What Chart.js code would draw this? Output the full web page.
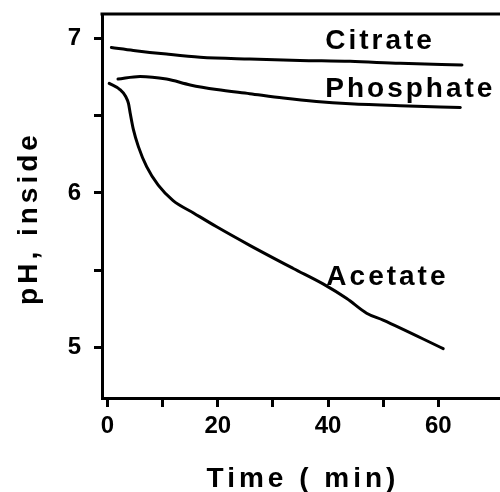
<!DOCTYPE html>
<html>
<head>
<meta charset="utf-8">
<script src="https://cdn.jsdelivr.net/npm/chart.js@4.4.1/dist/chart.umd.min.js"></script>
<style>
  html, body { margin: 0; padding: 0; background: #fff; }
  #wrap { width: 500px; height: 492px; }
</style>
</head>
<body>
<div id="wrap"><canvas id="phChart" width="500" height="492"></canvas></div>
<script>
// time (min) vs internal pH
const citrateTime = [0.7, 4.7, 10.7, 16.8, 25.8, 34.9, 44, 53.1, 64.3];
const citratePH = [6.943, 6.924, 6.90, 6.88, 6.868, 6.859, 6.853, 6.84, 6.83];

const phosphateTime = [1.9, 5.9, 10.7, 15, 19.8, 25.8, 31.9, 37.9, 44, 53.1, 64];
const phosphatePH = [6.738, 6.755, 6.738, 6.70, 6.67, 6.643, 6.615, 6.593, 6.578, 6.565, 6.554];

const acetateTime = [0.3, 2.25, 3.3, 3.8, 4.1, 4.7, 5.6, 7.1, 9.2, 11.9, 15.6, 19.8, 25.8, 33.7, 39.1, 43.4, 47, 50, 60.9];
const acetatePH = [6.71, 6.67, 6.625, 6.58, 6.52, 6.41, 6.30, 6.17, 6.05, 5.95, 5.87, 5.78, 5.66, 5.51, 5.41, 5.315, 5.22, 5.175, 4.99];

// axes
const xTicks = [0, 10, 20, 30, 40, 50, 60];
const xTickLabels = ['0', '', '20', '', '40', '', '60'];
const yTicks = [5, 5.5, 6, 6.5, 7];
const yTickLabels = ['5', '', '6', '', '7'];
const xTitle = 'Time ( min)';
const yTitle = 'pH, inside';

// curve names, placed in data units (left edge / baseline)
const curveNames = ['Citrate', 'Phosphate', 'Acetate'];
const nameTime = [39.5, 39.5, 39.7];
const namePH = [6.93, 6.62, 5.40];

function toPoints(xs, ys) {
    return xs.map((x, i) => ({ x: x, y: ys[i] }));
}

function lineSet(label, xs, ys) {
    return {
        label: label,
        data: toPoints(xs, ys),
        borderColor: '#000',
        borderWidth: 3,
        pointRadius: 0,
        fill: false,
        cubicInterpolationMode: 'monotone',
        borderCapStyle: 'round'
    };
}

const textFont = '"Liberation Sans", Arial, sans-serif';

// top frame line, curve names and axis titles
const annotate = {
    id: 'annotate',
    afterDraw(chart) {
        const { ctx, chartArea, scales } = chart;
        ctx.save();
        ctx.strokeStyle = '#000';
        ctx.lineWidth = 3;
        ctx.beginPath();
        ctx.moveTo(chartArea.left - 1.5, chartArea.top);
        ctx.lineTo(chartArea.right + 5, chartArea.top);
        ctx.stroke();

        ctx.fillStyle = '#000';
        ctx.font = 'bold 28px ' + textFont;
        ctx.letterSpacing = '3px';
        ctx.textAlign = 'left';
        ctx.textBaseline = 'alphabetic';
        curveNames.forEach((name, i) => {
            ctx.fillText(name, scales.x.getPixelForValue(nameTime[i]), scales.y.getPixelForValue(namePH[i]));
        });

        ctx.textAlign = 'center';
        ctx.letterSpacing = '4px';
        ctx.fillText(xTitle, (chartArea.left + chartArea.right) / 2 + 2, 487);

        ctx.translate(37, 218);
        ctx.rotate(-Math.PI / 2);
        ctx.fillText(yTitle, 0, 0);
        ctx.restore();
    }
};

const ctx = document.getElementById('phChart').getContext('2d');

new Chart(ctx, {
    type: 'line',
    data: {
        datasets: [
            lineSet('Citrate', citrateTime, citratePH),
            lineSet('Phosphate', phosphateTime, phosphatePH),
            lineSet('Acetate', acetateTime, acetatePH)
        ]
    },
    options: {
        responsive: false,
        animation: false,
        layout: { padding: { top: 14, left: 0, right: 0, bottom: 0 } },
        plugins: {
            legend: { display: false },
            tooltip: { enabled: false }
        },
        scales: {
            x: {
                type: 'linear',
                min: -1,
                max: 71.2,
                border: { display: true, color: '#000', width: 3 },
                grid: {
                    drawOnChartArea: false,
                    drawTicks: true,
                    tickLength: 9,
                    tickColor: '#000',
                    tickWidth: 3
                },
                afterBuildTicks: function(scale) {
                    scale.ticks = xTicks.map(v => ({ value: v }));
                },
                afterFit: function(scale) {
                    scale.height = 94;
                    scale.paddingLeft = 0;
                    scale.paddingRight = 0;
                },
                ticks: {
                    color: '#000',
                    padding: 5,
                    maxRotation: 0,
                    autoSkip: false,
                    font: { family: textFont, size: 24, weight: 'bold' },
                    callback: function(value) {
                        const i = xTicks.indexOf(value);
                        return i >= 0 ? xTickLabels[i] : '';
                    }
                }
            },
            y: {
                type: 'linear',
                min: 4.67,
                max: 7.16,
                border: { display: true, color: '#000', width: 3 },
                grid: {
                    drawOnChartArea: false,
                    drawTicks: true,
                    tickLength: 8,
                    tickColor: '#000',
                    tickWidth: 3
                },
                afterBuildTicks: function(scale) {
                    scale.ticks = yTicks.map(v => ({ value: v }));
                },
                afterFit: function(scale) {
                    scale.width = 102;
                    scale.paddingTop = 0;
                    scale.paddingBottom = 0;
                },
                ticks: {
                    color: '#000',
                    padding: 13,
                    autoSkip: false,
                    font: { family: textFont, size: 24, weight: 'bold' },
                    callback: function(value) {
                        const i = yTicks.indexOf(value);
                        return i >= 0 ? yTickLabels[i] : '';
                    }
                }
            }
        }
    },
    plugins: [annotate]
});
</script>
</body>
</html>
